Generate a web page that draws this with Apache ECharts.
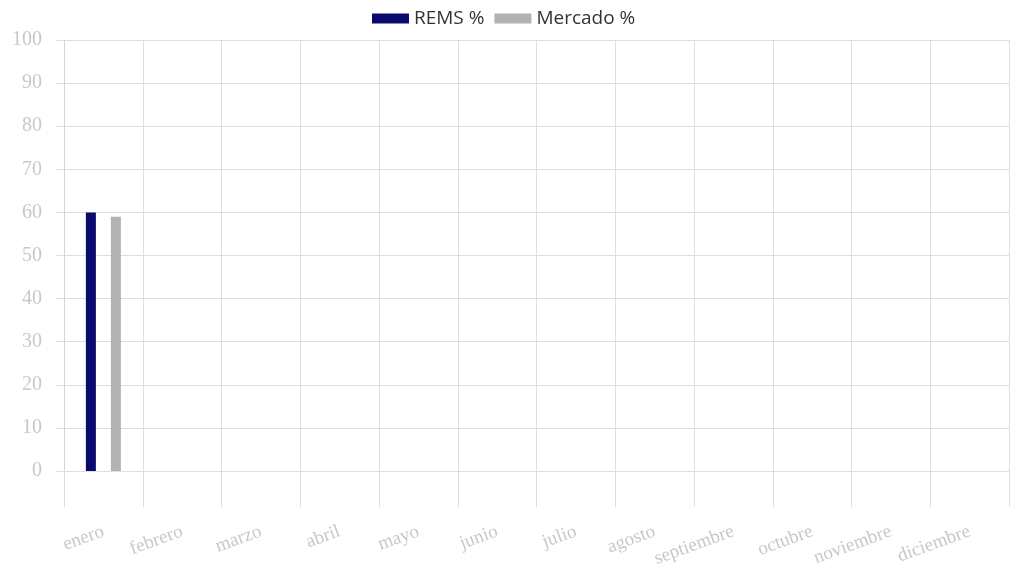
<!DOCTYPE html>
<html>
<head>
<meta charset="utf-8">
<style>
    html, body { margin: 0; padding: 0; background: #fff; }
    #main { width: 1024px; height: 580px; }
</style>
</head>
<body>
<div id="main"></div>
<script src="https://cdn.jsdelivr.net/npm/echarts@6/dist/echarts.min.js"></script>
<script type="text/javascript">
    // meses del año
    var months = ['enero', 'febrero', 'marzo', 'abril', 'mayo', 'junio', 'julio',
        'agosto', 'septiembre', 'octubre', 'noviembre', 'diciembre'];
    // solo enero tiene datos
    var remsValues = [60, null, null, null, null, null, null, null, null, null, null, null];
    var mercadoValues = [59, null, null, null, null, null, null, null, null, null, null, null];
    var seriesNames = ['REMS %', 'Mercado %'];

    var gridColor = '#dedede';
    var labelColor = '#c8c8c8';

    var myChart = echarts.init(document.getElementById('main'));

    var option = {
        animation: false,
        color: ['#0a0a6e', '#b2b2b2'],
        legend: {
            data: seriesNames,
            left: 367,
            top: 4,
            itemWidth: 37,
            itemHeight: 10,
            itemGap: 10,
            icon: 'rect',
            textStyle: {
                fontFamily: 'Open Sans',
                fontSize: 19,
                color: '#333'
            }
        },
        grid: {
            left: 64,
            right: 15,
            top: 40,
            bottom: 109
        },
        xAxis: {
            type: 'category',
            data: months,
            boundaryGap: true,
            axisLine: { show: true, lineStyle: { color: gridColor } },
            axisTick: {
                show: true,
                length: 36,
                alignWithLabel: false,
                lineStyle: { color: gridColor }
            },
            splitLine: { show: true, lineStyle: { color: gridColor } },
            axisLabel: {
                rotate: 20,
                margin: 60,
                interval: 0,
                fontFamily: 'Liberation Serif',
                fontSize: 19,
                color: labelColor
            }
        },
        yAxis: {
            type: 'value',
            min: 0,
            max: 100,
            interval: 10,
            axisLine: { show: true, lineStyle: { color: '#d4d4d4' } },
            axisTick: { show: true, length: 8, lineStyle: { color: gridColor } },
            splitLine: { lineStyle: { color: gridColor } },
            axisLabel: {
                margin: 22,
                fontFamily: 'Liberation Serif',
                fontSize: 20,
                color: labelColor
            }
        },
        series: [
            {
                name: seriesNames[0],
                type: 'bar',
                barWidth: 10,
                barGap: '150%',
                data: remsValues
            },
            {
                name: seriesNames[1],
                type: 'bar',
                barWidth: 10,
                barGap: '150%',
                data: mercadoValues
            }
        ]
    };

    myChart.setOption(option);
</script>
</body>
</html>
